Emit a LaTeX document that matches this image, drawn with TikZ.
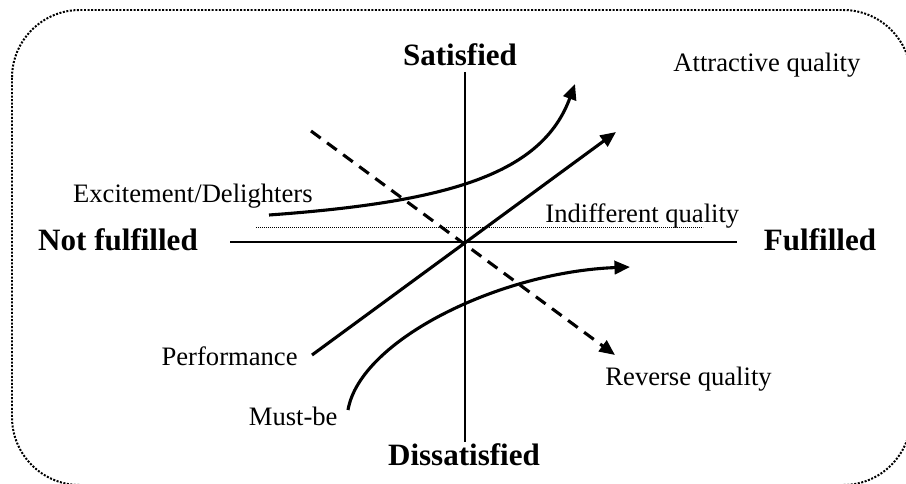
\documentclass[tikz,border=0pt]{standalone}
\usepackage{fontspec}
\setmainfont{Liberation Serif}
\usetikzlibrary{arrows.meta}
\tikzset{
  frame/.style={
    line width=0.9pt,
    dash pattern=on 0.9pt off 0.7pt,
    rounded corners=30.6pt
  },
  axis/.style={
    line width=0.55pt
  },
  curve/.style={
    line width=1.4pt,
    -{Triangle[length=7pt,width=6pt]}
  },
  reverse/.style={
    curve,
    dash pattern=on 5.4pt off 3.6pt
  },
  indiff/.style={
    line width=0.45pt,
    dash pattern=on 0.45pt off 0.45pt
  },
  axlabel/.style={
    font=\fontsize{14}{16}\selectfont\bfseries,
    inner sep=0pt
  },
  qlabel/.style={
    font=\fontsize{12}{14}\selectfont,
    inner sep=0pt
  }
}
\begin{document}
\begin{tikzpicture}[x=0.451pt,y=-0.451pt]
    \clip (0,0) rectangle (906,483);
    \draw[frame] (12,10) rectangle (911,485);

    % axes
    \coordinate (xl) at (230,242);
    \coordinate (xr) at (737,242);
    \coordinate (yt) at (465,72);
    \coordinate (yb) at (465,442);
    \draw[axis] (xl) -- (xr);
    \draw[axis] (yt) -- (yb);

    \node[axlabel, anchor=base] (sat) at (460,66) {Satisfied};
    \node[axlabel, anchor=base] (dis) at (464,465) {Dissatisfied};
    \node[axlabel, anchor=base] (notf) at (118,250) {Not fulfilled};
    \node[axlabel, anchor=base] (ful) at (820,250) {Fulfilled};

    % indifferent quality
    \coordinate (il) at (256,227);
    \coordinate (ir) at (703,227);
    \draw[indiff] (il) -- (ir);
    \node[qlabel, anchor=base west] (indq) at (545,222) {Indifferent quality};

    % attractive quality
    \coordinate (as) at (269,215);
    \coordinate (ae) at (575,84);
    \draw[curve] (as) .. controls (449,202) and (542,174) .. (ae);
    \node[qlabel, anchor=base east] (exc) at (313,202) {Excitement/Delighters};
    \node[qlabel, anchor=base west] (attq) at (673,72) {Attractive quality};

    % performance
    \coordinate (ps) at (312,355);
    \coordinate (pe) at (616,132);
    \draw[curve] (ps) -- (pe);
    \node[qlabel, anchor=base east] (perf) at (298,365) {Performance};

    % must-be
    \coordinate (ms) at (348,410);
    \coordinate (me) at (630,267);
    \draw[curve] (ms) .. controls (360,340) and (500,272) .. (me);
    \node[qlabel, anchor=base east] (must) at (338,425) {Must-be};

    % reverse quality
    \coordinate (rs) at (311,131);
    \coordinate (re) at (615,355);
    \draw[reverse] (rs) -- (re);
    \node[qlabel, anchor=base west] (revq) at (605,385) {Reverse quality};
\end{tikzpicture}
\end{document}
